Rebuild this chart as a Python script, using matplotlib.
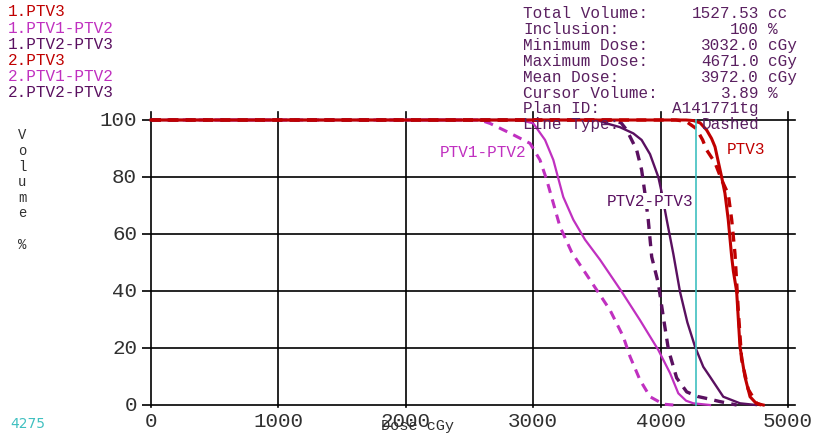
import numpy as np
import matplotlib.pyplot as plt

# DVH curves, dose in cGy, volume in %
ptv3_1_dose = [0, 4200, 4257, 4310, 4361, 4400, 4427, 4479, 4505, 4531, 4558, 4571, 4597, 4623,
               4662, 4702, 4750, 4806]
ptv3_1_vol = [100, 100, 99.8, 99, 96.5, 93.5, 90.6, 80, 74.3, 65, 52, 47, 39.8, 20.5,
              9.9, 2.9, 0.6, 0]
ptv3_2_dose = [0, 4120, 4200, 4280, 4330, 4361, 4427, 4479, 4531, 4558, 4584, 4610, 4636, 4688,
               4754, 4790]
ptv3_2_vol = [100, 100, 99.5, 97, 93, 89.5, 85, 79, 74, 65, 53, 33, 16, 5.5, 0.6, 0]

p12_1_dose = [0, 2900, 3001, 3093, 3158, 3197, 3236, 3315, 3407, 3524, 3694, 3838, 3982, 4074,
              4139, 4200, 4257, 4388]
p12_1_vol = [100, 100, 98.8, 93, 86, 79.5, 73, 65, 58, 51, 39.8, 29.8, 19.3, 11.2,
             4.1, 1.5, 0.6, 0]
p12_2_dose = [0, 2582, 2661, 2818, 2975, 3053, 3106, 3158, 3210, 3302, 3446, 3603, 3707, 3760,
              3838, 3917, 4021, 4100]
p12_2_vol = [100, 100, 98.8, 95.4, 91.8, 86, 79, 70.8, 62.6, 53.6, 43.9, 33.3, 24, 17,
             8.8, 2.9, 0.3, 0]

p23_1_dose = [0, 3500, 3577, 3680, 3786, 3851, 3917, 3982, 4008, 4048, 4100, 4152, 4210, 4270,
              4335, 4388, 4492, 4623, 4748]
p23_1_vol = [100, 100, 98.8, 97.5, 95.3, 93, 88, 80, 74.7, 65, 53, 39.8, 29, 20.5,
             13.4, 9.9, 2.9, 0.6, 0]
p23_2_dose = [0, 3620, 3690, 3734, 3812, 3851, 3877, 3903, 3930, 3982, 4021, 4062, 4126, 4205,
              4290, 4361, 4466, 4597]
p23_2_vol = [100, 100, 99, 96.5, 89.5, 82.5, 74.3, 65, 52, 42.7, 31, 19.3, 9.5, 4.6,
             3, 2.3, 1.2, 0]

cursor_dose = 4275
x_ticks = [0, 1000, 2000, 3000, 4000, 5000]
y_ticks = [0, 20, 40, 60, 80, 100]

legend_names = ["1.PTV3", "1.PTV1-PTV2", "1.PTV2-PTV3", "2.PTV3", "2.PTV1-PTV2", "2.PTV2-PTV3"]
info_keys = ["Total Volume:", "Inclusion:", "Minimum Dose:", "Maximum Dose:", "Mean Dose:",
             "Cursor Volume:", "Plan ID:", "Line Type:"]
info_vals = ["1527.53", "100", "3032.0", "4671.0", "3972.0", "3.89", "A141771tg", "Dashed"]
info_units = ["cc", "%", "cGy", "cGy", "cGy", "%", "", ""]

red = '#c00000'
mag = '#c030c0'
pur = '#5a1060'
txt = '#5a2060'
mono = 'Liberation Mono'

W, H = 813, 436
fig = plt.figure(figsize=(8.13, 4.36), dpi=100)
ax = fig.add_axes([142 / W, 1 - 410 / H, (800 - 142) / W, 300 / H])
px = 1000 / 127.4
py = 20 / 57.0
ax.set_xlim(-9 * px, 5000 + 12 * px)
ax.set_ylim(-5 * py, 100 + 10 * py)
ax.axis('off')

# grid
for y in y_ticks:
    ax.plot([-9 * px, 5000 + 7 * px], [y, y], color='black', lw=1.2, zorder=1)
for x in x_ticks:
    ax.plot([x, x], [-2 * py, 100 + 8 * py], color='black', lw=1.2, zorder=1)

# tick labels
for x in x_ticks:
    ax.text(x, -2.3, str(x), ha='center', va='top', family=mono, fontsize=15, color='#303030')
for y in y_ticks:
    ax.text(-14 * px, y, str(y), ha='right', va='center', family=mono, fontsize=15, color='#303030')

dash = (0, (3, 2.2))
ax.plot(p12_2_dose, p12_2_vol, color=mag, lw=2.2, ls=dash, zorder=3)
ax.plot(p12_1_dose, p12_1_vol, color=mag, lw=1.6, zorder=3)
ax.plot(p23_2_dose, p23_2_vol, color=pur, lw=2.4, ls=dash, zorder=3)
ax.plot(p23_1_dose, p23_1_vol, color=pur, lw=1.7, zorder=3)
ax.plot(ptv3_2_dose, ptv3_2_vol, color=red, lw=2.4, ls=dash, zorder=4)
ax.plot(ptv3_1_dose, ptv3_1_vol, color=red, lw=2.2, zorder=4)

ax.plot([cursor_dose, cursor_dose], [0, 100], color='#40c0c0', lw=1.2, zorder=5)

# curve labels
ax.text(2950, 88.5, "PTV1-PTV2", color=mag, family=mono, fontsize=11.5, ha='right', va='center',
        zorder=6)
ax.text(3580, 71.5, "PTV2-PTV3", color=pur, family=mono, fontsize=11.5, ha='left', va='center',
        zorder=6, bbox=dict(fc='white', ec='none', pad=0.5))
ax.text(4520, 89.5, "PTV3", color=red, family=mono, fontsize=11.5, ha='left', va='center',
        zorder=6)

# legend block
leg_cols = [red, mag, pur, red, mag, pur]
for i, (name, c) in enumerate(zip(legend_names, leg_cols)):
    fig.text(8 / W, 1 - (12 + 16 * i) / H, name, color=c, family=mono, fontsize=11.5, va='center')

# info block
for i in range(len(info_keys)):
    yy = 1 - (14 + 15.8 * i) / H
    fig.text(523 / W, yy, info_keys[i], color=txt, family=mono, fontsize=11.5, va='center', zorder=2)
    fig.text(759 / W, yy, info_vals[i], color=txt, family=mono, fontsize=11.5, va='center', ha='right')
    if info_units[i]:
        fig.text(768 / W, yy, info_units[i], color=txt, family=mono, fontsize=11.5, va='center')

# axis labels
fig.text(22 / W, 1 - 190 / H, "V\no\nl\nu\nm\ne\n\n%", color='#303030', family=mono, fontsize=10,
         ha='center', va='center', linespacing=1.15)
fig.text(417 / W, 1 - 426 / H, "Dose cGy", color='#303030', family=mono, fontsize=11, ha='center',
         va='center')
fig.text(10 / W, 1 - 424 / H, str(cursor_dose), color='#40c0c0', family='DejaVu Sans', fontsize=10,
         va='center')

fig.savefig('out.png', dpi=100)
